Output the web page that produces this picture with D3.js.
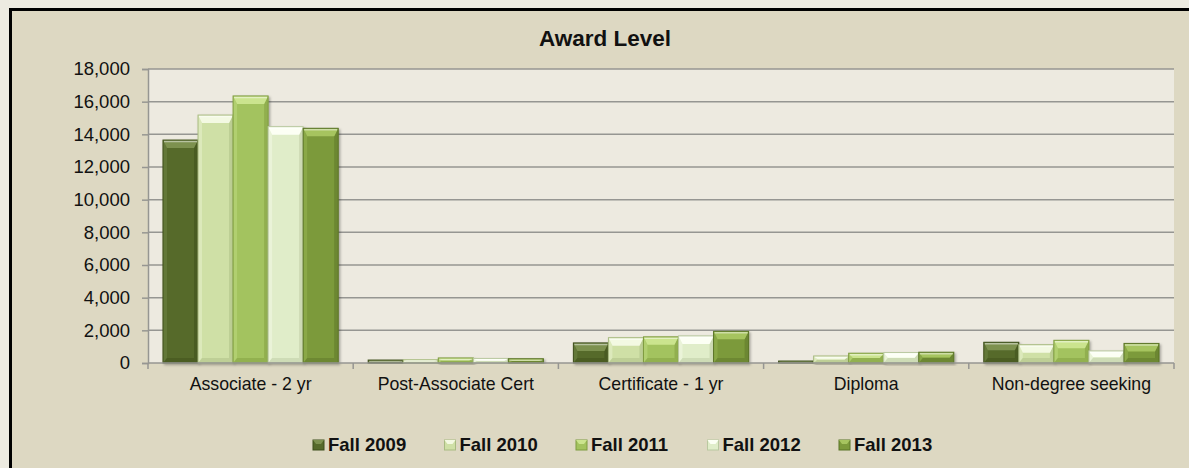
<!DOCTYPE html>
<html>
<head>
<meta charset="utf-8">
<script src="https://cdn.jsdelivr.net/npm/d3@7"></script>
<style>
  body { margin: 0; background: #edebe1; }
  text { font-family: "Liberation Sans", Arial, sans-serif; fill: #111; }
</style>
</head>
<body>
<svg width="1189" height="468"></svg>
<script>
var categories = ["Associate - 2 yr", "Post-Associate Cert", "Certificate - 1 yr", "Diploma", "Non-degree seeking"];
var seriesNames = ["Fall 2009", "Fall 2010", "Fall 2011", "Fall 2012", "Fall 2013"];
var fall2009 = [13650, 180, 1230, 120, 1270];
var fall2010 = [15180, 200, 1550, 430, 1120];
var fall2011 = [16350, 310, 1600, 600, 1390];
var fall2012 = [14470, 280, 1660, 640, 740];
var fall2013 = [14370, 260, 1940, 660, 1200];
var yTicks = [0, 2000, 4000, 6000, 8000, 10000, 12000, 14000, 16000, 18000];

var values = [fall2009, fall2010, fall2011, fall2012, fall2013];

// base / highlight / shade for each series
var colors = {
  "Fall 2009": ["#566a2b", "#7d9150", "#3e4e1c"],
  "Fall 2010": ["#cfe0a6", "#f3f9e2", "#a9bb82"],
  "Fall 2011": ["#a3c35e", "#cbe48e", "#7f9c40"],
  "Fall 2012": ["#e0edc9", "#fcfff4", "#b9c8a0"],
  "Fall 2013": ["#7c9a3b", "#a6c45f", "#5b7428"]
};

var svg = d3.select("svg"),
    width = +svg.attr("width"),
    height = +svg.attr("height");

var plot = {left: 148, right: 1174, top: 69, bottom: 363};

// chart frame
svg.append("rect")
    .attr("x", 10.5).attr("y", 9.5)
    .attr("width", 1200).attr("height", 480)
    .attr("fill", "#ddd8c2")
    .attr("stroke", "#000").attr("stroke-width", 3);

svg.append("rect")
    .attr("x", plot.left).attr("y", plot.top)
    .attr("width", plot.right - plot.left).attr("height", plot.bottom - plot.top)
    .attr("fill", "#edeae0");

var defs = svg.append("defs");
defs.append("filter").attr("id", "shadow")
    .attr("x", "-20%").attr("y", "-20%").attr("width", "140%").attr("height", "140%")
  .append("feDropShadow")
    .attr("dx", 1.5).attr("dy", 1.5).attr("stdDeviation", 1.2)
    .attr("flood-color", "#000").attr("flood-opacity", 0.3);

var y = d3.scaleLinear().domain([0, 18000]).range([plot.bottom, plot.top]);
var x0 = d3.scaleBand().domain(categories).range([plot.left, plot.right]);
var gap = x0.bandwidth() * 0.073;
var x1 = d3.scaleBand().domain(seriesNames).range([gap, x0.bandwidth() - gap]);

// gridlines
svg.append("g")
  .selectAll("line")
  .data(yTicks.slice(1))
  .enter().append("line")
    .attr("x1", plot.left).attr("x2", plot.right)
    .attr("y1", function(d) { return y(d); })
    .attr("y2", function(d) { return y(d); })
    .attr("stroke", "#969692").attr("stroke-width", 1.5);

// y axis
var yAxis = svg.append("g")
    .attr("transform", "translate(" + plot.left + ",0)")
    .call(d3.axisLeft(y).tickValues(yTicks).tickFormat(d3.format(",")).tickSize(6).tickPadding(12));
yAxis.select(".domain").attr("stroke", "#969692").attr("stroke-width", 1.5);
yAxis.selectAll(".tick line").attr("stroke", "#969692").attr("stroke-width", 1.5);
yAxis.selectAll("text").style("font-size", "18.5px").attr("fill", "#111");

// bars
var groups = svg.append("g")
  .selectAll("g")
  .data(categories)
  .enter().append("g")
    .attr("transform", function(d) { return "translate(" + x0(d) + ",0)"; });

var bars = groups.selectAll("g.bar")
  .data(function(c, i) {
    return seriesNames.map(function(s, j) { return {series: s, value: values[j][i]}; });
  })
  .enter().append("g")
    .attr("class", "bar")
    .attr("filter", "url(#shadow)");

bars.each(function(d) {
  var g = d3.select(this);
  var bx = x1(d.series), bw = x1.bandwidth();
  var top = y(d.value), bot = y(0), h = bot - top;
  var c = colors[d.series];
  var t = Math.min(8, h / 2), side = Math.min(4, bw / 2), bb = Math.min(5, h / 2);
  g.append("rect")
      .attr("x", bx).attr("y", top).attr("width", bw).attr("height", h)
      .attr("fill", c[0]);
  // left edge lighter
  g.append("path")
      .attr("d", "M" + bx + "," + top + "L" + (bx + side) + "," + (top + t) +
                 "L" + (bx + side) + "," + (bot - bb) + "L" + bx + "," + bot + "Z")
      .attr("fill", c[1]).attr("opacity", 0.35);
  // right edge darker
  g.append("path")
      .attr("d", "M" + (bx + bw) + "," + top + "L" + (bx + bw - side) + "," + (top + t) +
                 "L" + (bx + bw - side) + "," + (bot - bb) + "L" + (bx + bw) + "," + bot + "Z")
      .attr("fill", c[2]).attr("opacity", 0.5);
  // bottom darker
  g.append("path")
      .attr("d", "M" + bx + "," + bot + "L" + (bx + side) + "," + (bot - bb) +
                 "L" + (bx + bw - side) + "," + (bot - bb) + "L" + (bx + bw) + "," + bot + "Z")
      .attr("fill", c[2]).attr("opacity", 0.45);
  // top highlight
  g.append("path")
      .attr("d", "M" + bx + "," + top + "L" + (bx + bw) + "," + top +
                 "L" + (bx + bw - side) + "," + (top + t) + "L" + (bx + side) + "," + (top + t) + "Z")
      .attr("fill", c[1]);
  g.append("line")
      .attr("x1", bx + 1).attr("x2", bx + bw - 1)
      .attr("y1", top + 1.5).attr("y2", top + 1.5)
      .attr("stroke", "#fff").attr("stroke-opacity", 0.45).attr("stroke-width", 1.5);
  g.append("rect")
      .attr("x", bx).attr("y", top).attr("width", bw).attr("height", h)
      .attr("fill", "none").attr("stroke", c[2]).attr("stroke-width", 1);
});

// x axis
var xAxis = svg.append("g")
    .attr("transform", "translate(0," + plot.bottom + ")");
xAxis.append("line")
    .attr("x1", plot.left).attr("x2", plot.right)
    .attr("stroke", "#969692").attr("stroke-width", 1.5);
xAxis.selectAll("line.tick")
  .data(d3.range(categories.length + 1))
  .enter().append("line")
    .attr("class", "tick")
    .attr("x1", function(i) { return plot.left + i * x0.bandwidth(); })
    .attr("x2", function(i) { return plot.left + i * x0.bandwidth(); })
    .attr("y1", 0).attr("y2", 6)
    .attr("stroke", "#969692").attr("stroke-width", 1.5);
xAxis.selectAll("text")
  .data(categories)
  .enter().append("text")
    .attr("x", function(d) { return x0(d) + x0.bandwidth() / 2; })
    .attr("y", 27)
    .attr("text-anchor", "middle")
    .style("font-size", "17.7px")
    .text(function(d) { return d; });

// title
svg.append("text")
    .attr("x", 605).attr("y", 46)
    .attr("text-anchor", "middle")
    .style("font-size", "22.5px").style("font-weight", "bold")
    .text("Award Level");

// legend
var legend = svg.append("g").selectAll("g")
  .data(seriesNames)
  .enter().append("g")
    .attr("transform", function(d, i) { return "translate(" + (313 + i * 131.5) + ",440)"; });

legend.append("rect")
    .attr("width", 11).attr("height", 10)
    .attr("fill", function(d) { return colors[d][0]; })
    .attr("stroke", function(d) { return colors[d][2]; });
legend.append("path")
    .attr("d", "M0,0L11,0L8,4L3,4Z")
    .attr("fill", function(d) { return colors[d][1]; });
legend.append("text")
    .attr("x", 15).attr("y", 11)
    .style("font-size", "18.5px").style("font-weight", "bold")
    .text(function(d) { return d; });
</script>
</body>
</html>
